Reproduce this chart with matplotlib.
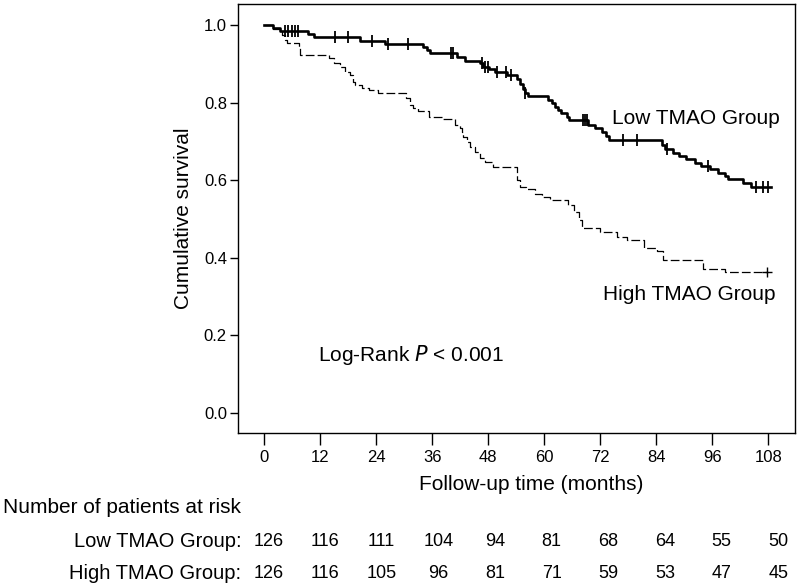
import numpy as np
import matplotlib
matplotlib.use('Agg')
import matplotlib.pyplot as plt
import matplotlib.transforms as mtransforms

plt.rcParams['font.family'] = ['Liberation Sans', 'DejaVu Sans']

# Kaplan-Meier steps (time in months, survival after the step)
low_t = [0, 2.0, 3.4, 9.5, 10.6, 20.6, 25.9, 34.1, 35.0, 35.6, 41.3, 43.1, 46.3, 47.0,
         48.1, 49.5, 52.0, 54.1, 54.9, 55.4, 55.9, 56.6, 60.9, 61.6, 62.3, 63.0, 63.7,
         64.8, 65.4, 69.5, 70.9, 72.4, 73.2, 73.8, 85.2, 85.9, 87.6, 89.0, 90.5, 92.3,
         93.7, 95.5, 97.3, 98.7, 99.4, 102.6, 104.4, 108.6]
low_s = [1.0, 0.992, 0.984, 0.976, 0.968, 0.960, 0.952, 0.944, 0.936, 0.928, 0.918, 0.908,
         0.901, 0.893, 0.886, 0.879, 0.872, 0.862, 0.848, 0.835, 0.824, 0.818, 0.807, 0.798,
         0.789, 0.781, 0.772, 0.764, 0.755, 0.743, 0.734, 0.725, 0.715, 0.704, 0.691, 0.679,
         0.671, 0.662, 0.654, 0.645, 0.637, 0.628, 0.619, 0.610, 0.602, 0.592, 0.582, 0.582]
low_cens = [4.5, 5.2, 5.9, 6.6, 7.3, 15.2, 18.0, 23.1, 26.6, 30.8, 40.0, 40.4, 46.6, 47.3,
            48.0, 49.9, 51.8, 52.8, 55.9, 68.4, 68.8, 69.1, 77.0, 79.9, 86.3, 95.1, 105.5,
            106.9, 108.0]

high_t = [0, 2.0, 3.8, 4.5, 4.9, 7.4, 7.7, 13.8, 14.9, 16.3, 17.4, 18.4, 19.1, 19.4, 20.9,
          22.4, 24.5, 30.3, 31.3, 32.0, 33.0, 35.3, 38.4, 40.9, 42.0, 42.3, 42.6, 43.4, 44.1,
          45.2, 46.3, 47.4, 49.0, 54.1, 54.8, 56.2, 58.0, 59.5, 61.3, 65.2, 66.3, 67.4, 68.1,
          72.0, 75.6, 77.7, 81.3, 84.1, 85.5, 94.1, 98.7, 107.7]
high_s = [1.0, 0.991, 0.974, 0.961, 0.953, 0.940, 0.923, 0.914, 0.901, 0.893, 0.880, 0.871,
          0.854, 0.845, 0.838, 0.832, 0.824, 0.811, 0.794, 0.785, 0.777, 0.764, 0.757, 0.742,
          0.734, 0.723, 0.712, 0.699, 0.686, 0.673, 0.656, 0.648, 0.635, 0.601, 0.583, 0.576,
          0.564, 0.556, 0.549, 0.536, 0.519, 0.497, 0.476, 0.467, 0.454, 0.446, 0.424, 0.416,
          0.394, 0.370, 0.362, 0.362]
high_cens = [107.7]

risk_times = [0, 12, 24, 36, 48, 60, 72, 84, 96, 108]
risk_low = [126, 116, 111, 104, 94, 81, 68, 64, 55, 50]
risk_high = [126, 116, 105, 96, 81, 71, 59, 53, 47, 45]
y_ticks = [0.0, 0.2, 0.4, 0.6, 0.8, 1.0]


def surv_at(times, surv, x):
    i = np.searchsorted(times, x, side='right') - 1
    return np.asarray(surv)[i]


def main():
    fig = plt.figure(figsize=(8, 5.85), dpi=100)
    ax = fig.add_axes([0.2975, 0.260, 0.6965, 0.733])

    ax.step(low_t, low_s, where='post', color='black', lw=1.9)
    ax.plot(low_cens, surv_at(low_t, low_s, low_cens), ls='none', marker='|',
            ms=9, mew=1.3, color='black')

    line, = ax.step(high_t, high_s, where='post', color='black', lw=0.9)
    line.set_dashes((7, 2.5))
    ax.plot(high_cens, surv_at(high_t, high_s, high_cens), ls='none', marker='+',
            ms=7, mew=1.0, color='black')

    ax.set_xlim(-5.6, 113.8)
    ax.set_ylim(-0.052, 1.054)
    ax.set_xticks(risk_times)
    ax.set_yticks(y_ticks)
    ax.set_yticklabels(['%.1f' % v for v in y_ticks])
    ax.tick_params(labelsize=12, width=1.0)
    ax.tick_params(axis='y', length=6, pad=2)
    ax.tick_params(axis='x', length=8.5, pad=4)
    for sp in ax.spines.values():
        sp.set_linewidth(1.0)

    ax.set_ylabel('Cumulative survival', fontsize=15, labelpad=8)
    ax.set_xlabel('Follow-up time (months)', fontsize=15)
    ax.xaxis.set_label_coords(0.526, -0.098)

    ax.text(74.6, 0.760, 'Low TMAO Group', fontsize=15, va='center', ha='left')
    ax.text(72.6, 0.304, 'High TMAO Group', fontsize=15, va='center', ha='left')
    ax.text(11.6, 0.149, 'Log-Rank $\\it{P}$ < 0.001', fontsize=15, va='center', ha='left')

    # number at risk table
    fig.text(0.004, 0.132, 'Number of patients at risk', fontsize=15, va='center')
    row_y = [0.075, 0.0205]
    fig.text(0.302, row_y[0], 'Low TMAO Group:', fontsize=14.5, va='center', ha='right')
    fig.text(0.302, row_y[1], 'High TMAO Group:', fontsize=14.5, va='center', ha='right')
    trans = mtransforms.blended_transform_factory(ax.transData, fig.transFigure)
    # table columns sit a little wider apart than the axis ticks
    col_x = [t * 1.012 + 0.9 for t in risk_times]
    for x, a, b in zip(col_x, risk_low, risk_high):
        ax.text(x, row_y[0], str(a), fontsize=13, ha='center', va='center', transform=trans)
        ax.text(x, row_y[1], str(b), fontsize=13, ha='center', va='center', transform=trans)

    plt.savefig('out.png', dpi=100)


main()
